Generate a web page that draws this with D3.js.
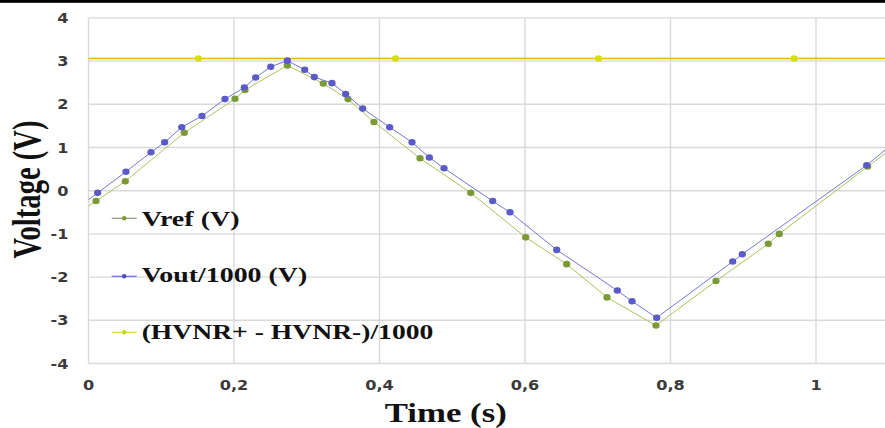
<!DOCTYPE html>
<html>
<head>
<meta charset="utf-8">
<script src="https://cdn.jsdelivr.net/npm/d3@7"></script>
<style>
  html, body { margin: 0; padding: 0; background: #fff; }
  svg { display: block; }
</style>
</head>
<body>
<svg id="chart" width="885" height="428"></svg>
<script>
// ---- data ----
const vrefT = [-0.012, 0.0103, 0.0506, 0.1317, 0.2014, 0.2151, 0.2733, 0.3227, 0.3567, 0.3924, 0.4557, 0.5254, 0.601, 0.6573, 0.7127, 0.780, 0.8625, 0.9344, 0.9495, 1.071, 1.11];
const vrefV = [-0.49, -0.24, 0.22, 1.34, 2.13, 2.33, 2.90, 2.48, 2.12, 1.59, 0.75, -0.05, -1.08, -1.70, -2.47, -3.12, -2.09, -1.23, -1.00, 0.56, 1.05];

const voutT = [-0.012, 0.0126, 0.0515, 0.0859, 0.1047, 0.1282, 0.156, 0.1876, 0.2142, 0.2298, 0.2505, 0.2733, 0.2972, 0.3104, 0.3347, 0.3535, 0.3769, 0.414, 0.4447, 0.4685, 0.4887, 0.5556, 0.5794, 0.6436, 0.7269, 0.7471, 0.781, 0.8855, 0.8987, 1.0697, 1.11];
const voutV = [-0.36, -0.05, 0.44, 0.89, 1.12, 1.47, 1.73, 2.12, 2.39, 2.62, 2.87, 3.01, 2.80, 2.63, 2.49, 2.24, 1.90, 1.47, 1.12, 0.77, 0.52, -0.24, -0.50, -1.37, -2.31, -2.56, -2.94, -1.64, -1.47, 0.59, 1.15];

const hvnrT = [-0.12, 0.151, 0.422, 0.701, 0.970, 1.24];
const hvnrV = [3.06, 3.06, 3.06, 3.06, 3.06, 3.06];

const xTicks = [0, 0.2, 0.4, 0.6, 0.8, 1];
const xTickLabels = ["0", "0,2", "0,4", "0,6", "0,8", "1"];
const yTicks = [4, 3, 2, 1, 0, -1, -2, -3, -4];
const yTickLabels = ["4", "3", "2", "1", "0", "-1", "-2", "-3", "-4"];

const seriesNames = ["Vref (V)", "Vout/1000 (V)", "(HVNR+ - HVNR-)/1000"];
const xTitle = "Time (s)";
const yTitle = "Voltage (V)";

// ---- drawing ----
const svg = d3.select("#chart");
const W = 885, H = 428;
const pLeft = 88.5, pBottom = 363.5, pTop = 17.9;
const x = d3.scaleLinear().domain([0, 1.2]).range([pLeft, pLeft + 1.2 * 727.5]);
const y = d3.scaleLinear().domain([-4, 4]).range([pBottom, pTop]);

svg.append("rect").attr("width", W).attr("height", H).attr("fill", "#fff");

// gridlines
const grid = svg.append("g");
grid.selectAll("line.h").data(yTicks).join("line")
  .attr("x1", pLeft).attr("x2", W)
  .attr("y1", d => y(d)).attr("y2", d => y(d))
  .attr("stroke", "#d9d9d9").attr("stroke-width", 1.4);
grid.selectAll("line.v").data(xTicks).join("line")
  .attr("x1", d => x(d)).attr("x2", d => x(d))
  .attr("y1", pTop).attr("y2", pBottom)
  .attr("stroke", "#d9d9d9").attr("stroke-width", 1.4);

// tick labels
const tickFont = "'DejaVu Sans', Verdana, sans-serif";
svg.append("g").selectAll("text").data(xTicks).join("text")
  .attr("transform", d => `translate(${x(d)},390) scale(1.15,1)`)
  .attr("text-anchor", "middle")
  .attr("font-family", tickFont).attr("font-weight", "bold").attr("font-size", 14)
  .attr("fill", "#3a3a3a")
  .text((d, i) => xTickLabels[i]);
svg.append("g").selectAll("text").data(yTicks).join("text")
  .attr("transform", d => `translate(68.5,${y(d) + 5}) scale(1.15,1)`)
  .attr("text-anchor", "end")
  .attr("font-family", tickFont).attr("font-weight", "bold").attr("font-size", 14)
  .attr("fill", "#3a3a3a")
  .text((d, i) => yTickLabels[i]);

// clip
svg.append("clipPath").attr("id", "plotclip").append("rect")
  .attr("x", pLeft).attr("y", 0).attr("width", W - pLeft).attr("height", pBottom + 5);
const plot = svg.append("g").attr("clip-path", "url(#plotclip)");

const line = d3.line().x(d => x(d[0])).y(d => y(d[1]));
const zip = (a, b) => a.map((t, i) => [t, b[i]]);

const series = [
  { pts: zip(hvnrT, hvnrV), line: "#f5b400", lw: 1.6, mk: "#d2df10", r: 3.2 },
  { pts: zip(vrefT, vrefV), line: "#a9c45a", lw: 1, mk: "#7a9a35", r: 3.3 },
  { pts: zip(voutT, voutV), line: "#7676d8", lw: 1, mk: "#5a5ac8", r: 3.3 }
];
series.forEach(s => {
  plot.append("path").datum(s.pts).attr("d", line)
    .attr("fill", "none").attr("stroke", s.line).attr("stroke-width", s.lw);
  plot.append("g").selectAll("ellipse").data(s.pts).join("ellipse")
    .attr("cx", d => x(d[0])).attr("cy", d => y(d[1]))
    .attr("rx", s.r * 1.1).attr("ry", s.r)
    .attr("fill", s.mk);
});

// legend
const legend = [
  { name: seriesNames[0], line: "#8f9480", mk: "#7a9a35", yl: 218.3, tb: 225.5, len: 98 },
  { name: seriesNames[1], line: "#6a6ad0", mk: "#4a4ab8", yl: 276.3, tb: 282, len: 165.6 },
  { name: seriesNames[2], line: "#d2e030", mk: "#c4d810", yl: 332.3, tb: 339.3, len: 291.6 }
];
const lg = svg.append("g");
legend.forEach(l => {
  lg.append("line").attr("x1", 111.7).attr("x2", 136.7).attr("y1", l.yl).attr("y2", l.yl)
    .attr("stroke", l.line).attr("stroke-width", 1.2);
  lg.append("circle").attr("cx", 124.2).attr("cy", l.yl).attr("r", 2.2).attr("fill", l.mk);
  lg.append("text").attr("x", 141.7).attr("y", l.tb)
    .attr("font-family", "'Liberation Serif', 'Times New Roman', serif")
    .attr("font-weight", "bold").attr("font-size", 21)
    .attr("textLength", l.len).attr("lengthAdjust", "spacingAndGlyphs")
    .attr("fill", "#111").text(l.name);
});

// axis titles
svg.append("text").attr("x", 445.8).attr("y", 421.5)
  .attr("text-anchor", "middle")
  .attr("font-family", "'Liberation Serif', 'Times New Roman', serif")
  .attr("font-weight", "bold").attr("font-size", 27)
  .attr("textLength", 122).attr("lengthAdjust", "spacingAndGlyphs")
  .attr("fill", "#111").text(xTitle);

svg.append("text")
  .attr("transform", "translate(39.5,189.5) scale(1.4,1) rotate(-90)")
  .attr("text-anchor", "middle")
  .attr("font-family", "'Liberation Serif', 'Times New Roman', serif")
  .attr("font-weight", "bold").attr("font-size", 29)
  .attr("textLength", 138).attr("lengthAdjust", "spacingAndGlyphs")
  .attr("fill", "#111").text(yTitle);

// top black rule
svg.append("rect").attr("x", 0).attr("y", 0).attr("width", W).attr("height", 2.8).attr("fill", "#000");
</script>
</body>
</html>
